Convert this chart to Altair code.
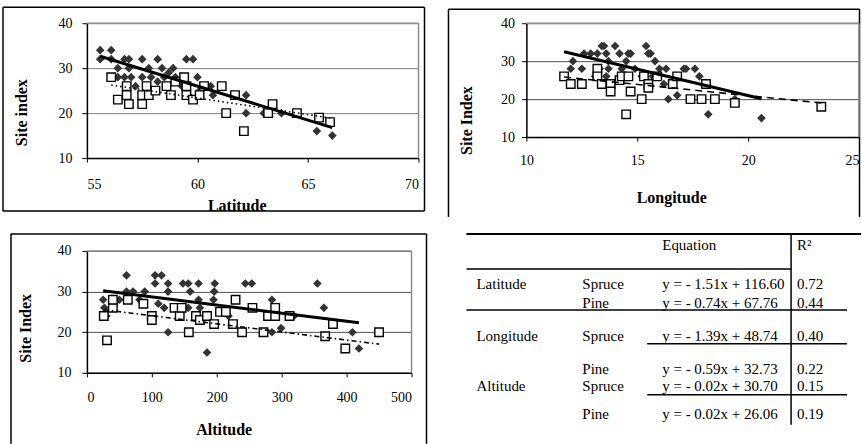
import altair as alt
import pandas as pd

SERIF = "Liberation Serif"

# ---- Site index against latitude ------------------------------------------
lat_spruce_x = [55.6, 55.6, 56.1, 56.1, 56.4, 56.4, 56.7, 56.9, 56.9, 56.7,
                57.0, 57.2, 57.5, 57.5, 57.8, 57.9, 58.2, 58.2, 58.4, 58.5,
                58.7, 58.9, 59.0, 59.1, 59.3, 59.5, 59.5, 59.6, 59.8, 60.0,
                60.1, 60.3, 60.6, 60.7, 62.2, 62.2, 63.0, 63.8, 65.4, 66.1]
lat_spruce_y = [34, 32, 34, 32, 30, 28, 32, 32, 30, 28,
                28, 26, 32, 28, 30, 28, 32, 27, 30, 28,
                29, 30, 28, 27, 26, 32, 26, 24, 32, 28,
                25, 26, 26, 24, 24, 20, 20, 20, 16, 15]
lat_pine_x = [56.1, 56.4, 56.8, 56.8, 56.9, 57.5, 57.5, 57.7, 57.8, 58.1,
              58.6, 58.8, 59.0, 59.4, 59.5, 59.5, 59.8, 60.1, 60.3, 61.1,
              61.3, 61.7, 62.1, 63.2, 63.4, 64.5, 65.5, 66.0]
lat_pine_y = [28, 23, 26, 24, 22, 22, 24, 26, 24, 25,
              26, 24, 27, 28, 26, 24, 23, 24, 26, 26,
              20, 24, 16, 20, 22, 20, 19, 18]

# ---- Site index against longitude -----------------------------------------
lon_spruce_x = [11.7, 12.0, 12.1, 12.5, 12.6, 12.9, 13.2, 13.1, 13.4, 13.5,
                13.6, 13.7, 13.3, 13.7, 13.6, 14.0, 14.2, 14.5, 14.6, 14.7,
                14.3, 14.9, 15.4, 15.5, 15.6, 15.8, 16.0, 16.3, 15.2, 15.7,
                16.2, 16.4, 16.8, 16.6, 17.1, 17.2, 17.6, 17.8, 17.4, 18.2,
                19.4, 20.6]
lon_spruce_y = [26, 28, 30, 28, 32, 32, 32, 26, 34, 34,
                32, 30, 28, 28, 26, 34, 32, 30, 32, 32,
                28, 28, 34, 32, 32, 30, 28, 28, 26, 26,
                24, 20, 21, 24, 28, 28, 28, 26, 20, 16,
                20, 15]
lon_pine_x = [11.7, 12.0, 12.5, 13.2, 13.2, 13.4, 13.8, 13.8, 14.2, 14.3,
              14.6, 14.5, 14.7, 15.2, 15.3, 15.5, 15.5, 15.9, 16.6, 16.8,
              17.4, 17.9, 18.1, 18.5, 19.4, 23.3]
lon_pine_y = [26, 24, 24, 28, 26, 24, 24, 22, 25, 26,
              26, 16, 22, 20, 26, 24, 23, 26, 24, 26,
              20, 20, 24, 20, 19, 18]

# ---- Site index against altitude ------------------------------------------
alt_spruce_x = [25, 27, 30, 42, 50, 61, 61, 71, 81, 89,
                105, 105, 115, 110, 119, 125, 125, 125, 148, 156,
                159, 156, 172, 172, 174, 185, 195, 197, 196, 218,
                244, 254, 285, 285, 299, 319, 355, 365, 409, 419]
alt_spruce_y = [28, 26, 24, 28, 28, 34, 30, 30, 28, 30,
                34, 32, 34, 27, 26, 32, 30, 20, 32, 32,
                30, 26, 32, 28, 26, 15, 28, 32, 30, 24,
                32, 32, 28, 20, 21, 24, 32, 26, 20, 16]
alt_pine_x = [26, 31, 40, 40, 63, 87, 100, 100, 135, 143,
              146, 157, 168, 174, 185, 196, 205, 214, 229, 225,
              239, 255, 272, 279, 290, 290, 312, 367, 379, 398, 450]
alt_pine_y = [24, 18, 26, 28, 28, 27, 24, 23, 26, 24,
              26, 20, 24, 23, 24, 22, 25, 25, 28, 22,
              20, 26, 20, 24, 26, 24, 24, 19, 22, 16, 20]

# ---- Fitted linear regressions ----------------------------------------------
fit_variable = ["Latitude", "Latitude", "Longitude", "Longitude", "Altitude", "Altitude"]
fit_species = ["Spruce", "Pine", "Spruce", "Pine", "Spruce", "Pine"]
fit_slope = [-1.51, -0.74, -1.39, -0.59, -0.02, -0.02]
fit_intercept = [116.60, 67.76, 48.74, 32.73, 30.70, 26.06]
fit_r2 = [0.72, 0.44, 0.40, 0.22, 0.15, 0.19]

site_ticks = [10, 20, 30, 40]
one_row = pd.DataFrame({"k": [0]})


def points(xs, ys):
    return pd.DataFrame({"x": xs, "y": ys})


def fit_line(k, xs):
    lo, hi = min(xs), max(xs)
    return pd.DataFrame({
        "x": [lo, hi],
        "y": [fit_slope[k] * lo + fit_intercept[k], fit_slope[k] * hi + fit_intercept[k]],
    })


def rule(x, y, x2=None, y2=None, width=1.5, color="black"):
    enc = {"x": alt.value(x), "y": alt.value(y)}
    if x2 is not None:
        enc["x2"] = alt.value(x2)
    if y2 is not None:
        enc["y2"] = alt.value(y2)
    return alt.Chart(one_row).mark_rule(color=color, strokeWidth=width).encode(**enc)


def panel(sx, sy, px, py, k_spruce, k_pine, xdom, xticks, xtitle, ytitle,
          width, height, frame, pine_dash, grid_color, x_title_pos, y_title_pos,
          x_label_pad, y_label_pad, last_label_right=False):
    xaxis = dict(values=xticks, tickCount=len(xticks), title=xtitle, grid=False,
                 tickSize=4, labelPadding=x_label_pad,
                 titleX=x_title_pos[0], titleY=x_title_pos[1],
                 titleBaseline="alphabetic", titleAlign="center")
    if last_label_right:
        # keep the last tick label inside the right edge of the page
        xaxis["labelAlign"] = {"condition": {"test": f"datum.value >= {xdom[1]}",
                                             "value": "right"},
                               "value": "center"}
    xenc = alt.X("x:Q", scale=alt.Scale(domain=xdom, nice=False, zero=False),
                 axis=alt.Axis(**xaxis))
    yenc = alt.Y("y:Q", scale=alt.Scale(domain=[10, 40], nice=False, zero=False),
                 axis=alt.Axis(values=site_ticks, tickCount=len(site_ticks),
                               title=ytitle, grid=True,
                               gridColor=grid_color, gridWidth=1, tickSize=5,
                               labelPadding=y_label_pad, titleX=y_title_pos[0],
                               titleY=y_title_pos[1], titleAngle=270,
                               titleBaseline="alphabetic", titleAlign="center"))

    left, top, right, bottom = frame
    layers = [rule(left, top, y2=bottom), rule(left, top, x2=right), rule(right, top, y2=bottom)]
    if bottom < height + 60:
        layers.append(rule(left, bottom, x2=right))

    border = "#8c8c8c"
    layers += [
        alt.Chart(one_row).mark_rule(color=border, strokeWidth=1.5).encode(
            x=alt.datum(xdom[0]), x2=alt.datum(xdom[1]), y=alt.datum(40)),
        alt.Chart(one_row).mark_rule(color=border, strokeWidth=1.5).encode(
            x=alt.datum(xdom[1]), y=alt.datum(10), y2=alt.datum(40)),
        alt.Chart(points(sx, sy)).mark_point(
            shape="diamond", filled=True, size=75, color="#333333", opacity=1
        ).encode(x=xenc, y=yenc),
        alt.Chart(points(px, py)).mark_point(
            shape="square", filled=True, size=72, fill="white", stroke="black",
            strokeWidth=1.4, opacity=1
        ).encode(x=xenc, y=yenc),
        alt.Chart(fit_line(k_pine, px)).mark_line(
            color="black", strokeWidth=1.6, strokeDash=pine_dash
        ).encode(x=xenc, y=yenc),
        alt.Chart(fit_line(k_spruce, sx)).mark_line(
            color="black", strokeWidth=3
        ).encode(x=xenc, y=yenc),
    ]
    return alt.layer(*layers).properties(width=width, height=height)


p_lat = panel(lat_spruce_x, lat_spruce_y, lat_pine_x, lat_pine_y, 0, 1,
              [55, 70], [55, 60, 65, 70], "Latitude", "Site index",
              332, 135, (-84, -16, 338, 188), [1.5, 3], "#808080",
              (150, 52), (-60, 89), 15, 10)

p_lon = panel(lon_spruce_x, lon_spruce_y, lon_pine_x, lon_pine_y, 2, 3,
              [10, 25], [10, 15, 20, 25], "Longitude", "Site Index",
              333, 114, (-78, -14, 333.5, 194), [7, 5], "#505050",
              (145, 65), (-55, 97), 12, 7, last_label_right=True)

p_alt = panel(alt_spruce_x, alt_spruce_y, alt_pine_x, alt_pine_y, 4, 5,
              [0, 500], [0, 100, 200, 300, 400, 500], "Altitude", "Site Index",
              325, 122, (-76, -17, 340, 193), [5, 3, 1.5, 3], "#505050",
              (137, 62), (-56, 77), 14, 11)

# ---- Regression table -----------------------------------------------------
cells = [{"col": 2, "row": 0, "text": "Equation"}, {"col": 3, "row": 0, "text": "R²"}]
shown_var = set()
for k in range(len(fit_species)):
    r = k + 1
    if fit_variable[k] not in shown_var and fit_species[k] == "Spruce":
        cells.append({"col": 0, "row": r, "text": fit_variable[k]})
        shown_var.add(fit_variable[k])
    cells.append({"col": 1, "row": r, "text": fit_species[k]})
    sign = "-" if fit_slope[k] < 0 else "+"
    cells.append({"col": 2, "row": r,
                  "text": f"y = {sign} {abs(fit_slope[k]):.2f}x + {fit_intercept[k]:.2f}"})
    cells.append({"col": 3, "row": r, "text": f"{fit_r2[k]:.2f}"})
table_df = pd.DataFrame(cells)

table_text = alt.Chart(table_df).mark_text(
    align="left", baseline="alphabetic", font=SERIF, fontSize=15, color="black"
).encode(
    x=alt.X("col:Q", scale=alt.Scale(domain=[0, 1, 2, 3], range=[-50, 56, 136, 271],
                                     nice=False, zero=False), axis=None),
    y=alt.Y("row:Q", scale=alt.Scale(domain=[0, 1, 2, 3, 4, 5, 6],
                                     range=[-1, 38, 57, 90, 123, 140, 168],
                                     nice=False, zero=False), axis=None),
    text="text:N",
)

table = alt.layer(
    table_text,
    rule(-60, -17, x2=335, width=2),
    rule(-60, 18, x2=265),
    rule(-60, 59, x2=321),
    rule(121, 93, x2=321),
    rule(121, 144, x2=321),
    rule(265, -17, y2=174),
).properties(width=335, height=122)

chart = alt.concat(
    p_lat, p_lon, p_alt, table,
    columns=2, spacing={"row": 93, "column": 108}, bounds="flush",
).properties(
    padding={"left": 2, "top": 6, "right": 0, "bottom": 0}
).configure_view(
    strokeWidth=0
).configure_axis(
    labelFont=SERIF, labelFontSize=14, labelColor="black",
    titleFont=SERIF, titleFontSize=16, titleFontWeight="bold", titleColor="black",
    domainColor="black", domainWidth=1.5, tickColor="black", tickWidth=1,
)

chart.save("out.html", embed_options={"renderer": "svg", "actions": False})
